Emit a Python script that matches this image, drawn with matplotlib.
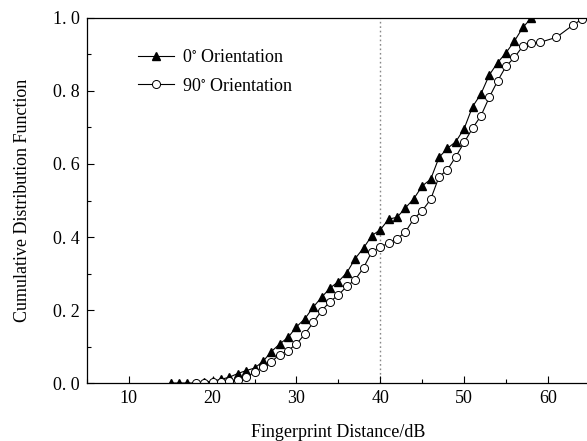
import matplotlib.pyplot as plt
from matplotlib.ticker import MultipleLocator

plt.rcParams['font.family'] = ['Liberation Serif', 'DejaVu Serif']
plt.rcParams['mathtext.fontset'] = 'stix'

# 0 degree orientation (filled triangles)
dist_0 = [15, 16, 17, 18, 19, 20, 21, 22, 23, 24, 25, 26, 27, 28, 29, 30,
          31, 32, 33, 34, 35, 36, 37, 38, 39, 40, 41, 42, 43, 44, 45, 46,
          47, 48, 49, 50, 51, 52, 53, 54, 55, 56, 57, 58]
cdf_0 = [0, 0, 0, 0, 0.003, 0.005, 0.01, 0.016, 0.026, 0.034, 0.041, 0.059,
         0.086, 0.107, 0.125, 0.154, 0.176, 0.208, 0.235, 0.26, 0.278, 0.302,
         0.341, 0.37, 0.404, 0.42, 0.449, 0.454, 0.48, 0.505, 0.54, 0.558,
         0.618, 0.643, 0.661, 0.697, 0.757, 0.792, 0.844, 0.878, 0.905, 0.937,
         0.974, 1.0]

# 90 degree orientation (open circles)
dist_90 = [18, 19, 20, 21, 22, 23, 24, 25, 26, 27, 28, 29, 30, 31, 32, 33,
           34, 35, 36, 37, 38, 39, 40, 41, 42, 43, 44, 45, 46, 47, 48, 49,
           50, 51, 52, 53, 54, 55, 56, 57, 58, 59, 61, 63, 64]
cdf_90 = [0, 0, 0.003, 0.004, 0.006, 0.009, 0.017, 0.029, 0.045, 0.058,
          0.078, 0.089, 0.107, 0.134, 0.166, 0.198, 0.223, 0.241, 0.265,
          0.283, 0.316, 0.36, 0.373, 0.383, 0.395, 0.414, 0.45, 0.472, 0.503,
          0.565, 0.584, 0.62, 0.659, 0.698, 0.732, 0.783, 0.828, 0.868, 0.892,
          0.923, 0.931, 0.933, 0.947, 0.981, 0.996]

x_ticks = [10, 20, 30, 40, 50, 60]
y_ticks = [0.0, 0.2, 0.4, 0.6, 0.8, 1.0]
y_tick_labels = ['0. 0', '0. 2', '0. 4', '0. 6', '0. 8', '1. 0']
threshold = 40

fig = plt.figure(figsize=(5.87, 4.41), dpi=100)
ax = fig.add_axes([0.148, 0.1315, 0.857, 0.8277])

ax.plot(dist_0, cdf_0, color='black', lw=0.8, marker='^', ms=6,
        mfc='black', mec='black', label=r'0$^{\circ}$ Orientation')
ax.plot(dist_90, cdf_90, color='black', lw=0.8, marker='o', ms=5.8,
        mfc='white', mec='black', mew=0.7, label=r'90$^{\circ}$ Orientation')
ax.axvline(threshold, color='#888888', lw=1.0, ls=(0, (1.2, 2.0)), zorder=0)

ax.set_xlim(5, 65)
ax.set_ylim(0, 1.0)
ax.set_xticks(x_ticks)
ax.set_yticks(y_ticks)
ax.set_yticklabels(y_tick_labels)
ax.xaxis.set_minor_locator(MultipleLocator(5))
ax.yaxis.set_minor_locator(MultipleLocator(0.1))
ax.tick_params(which='both', direction='in', top=False, right=False,
               labelsize=13, width=0.8)
ax.tick_params(which='major', length=5, pad=5)
ax.tick_params(which='minor', length=3)
for s in ax.spines.values():
    s.set_linewidth(0.9)

ax.set_xlabel('Fingerprint Distance/dB', fontsize=13, labelpad=12)
ax.set_ylabel('Cumulative Distribution Function', fontsize=13, labelpad=16)

ax.legend(loc='upper left', bbox_to_anchor=(0.07, 0.96), frameon=False,
          fontsize=13, handlelength=2.0, handletextpad=0.4, labelspacing=0.65)

fig.savefig('out.png', dpi=100)
